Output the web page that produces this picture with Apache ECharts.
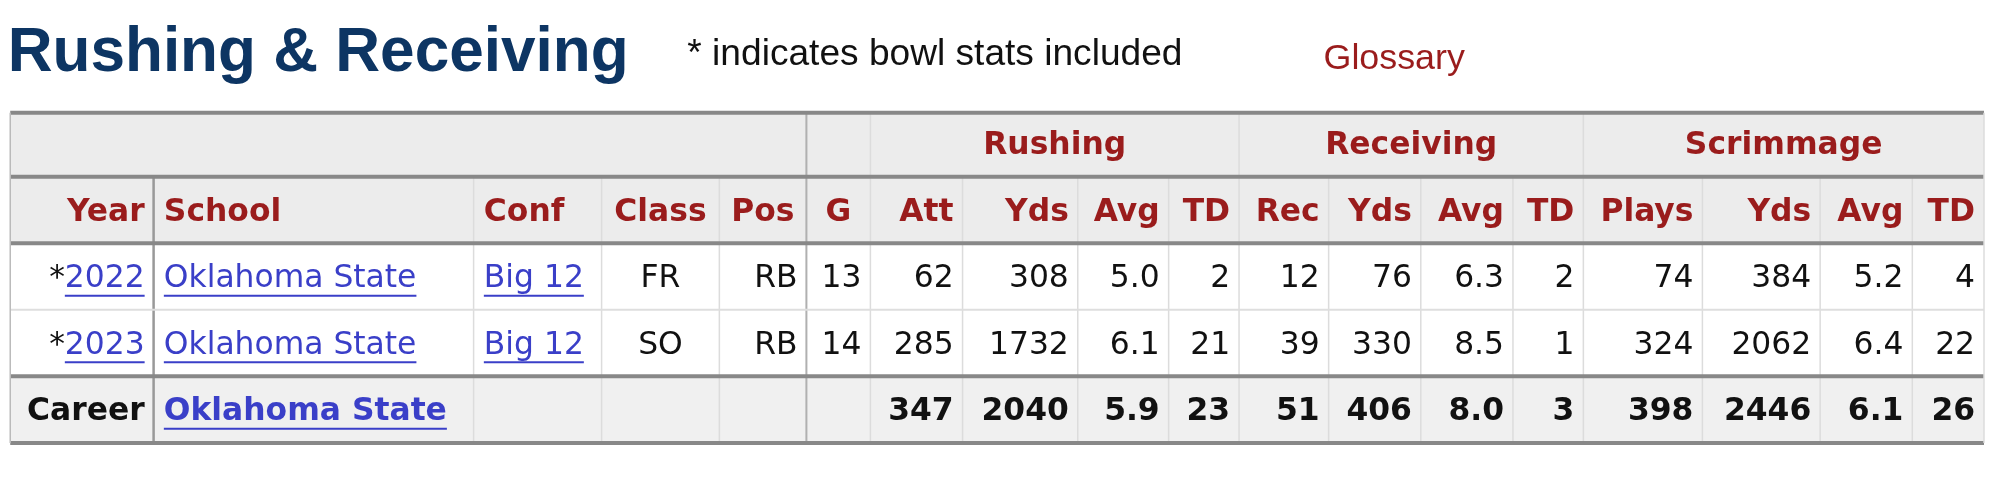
<!DOCTYPE html>
<html><head><meta charset="utf-8">
<script src="https://cdn.jsdelivr.net/npm/echarts@6/dist/echarts.min.js"></script>
<style>html,body{margin:0;background:#fff}#c{width:1996px;height:495px}</style>
</head><body><div id="c"></div>
<script>
const title = "Rushing & Receiving";
const note = "* indicates bowl stats included";
const glossary = "Glossary";
const groups = [["",0,6],["Rushing",6,10],["Receiving",10,14],["Scrimmage",14,18]];
const headers = ["Year","School","Conf","Class","Pos","G","Att","Yds","Avg","TD","Rec","Yds","Avg","TD","Plays","Yds","Avg","TD"];
const row2022 = ["*2022","Oklahoma State","Big 12","FR","RB","13","62","308","5.0","2","12","76","6.3","2","74","384","5.2","4"];
const row2023 = ["*2023","Oklahoma State","Big 12","SO","RB","14","285","1732","6.1","21","39","330","8.5","1","324","2062","6.4","22"];
const career = ["Career","Oklahoma State","","","","","347","2040","5.9","23","51","406","8.0","3","398","2446","6.1","26"];

const S = 1.28;
const colX = [8,120,370,470,562,630,680,752,842,913,968,1038,1110,1182,1237,1330,1422,1494,1550];
const FONT = "DejaVu Sans";
const fs = 24.5*S;
const cv = document.createElement('canvas').getContext('2d');
function tw(t, w){ cv.font = w+" "+fs+"px '"+FONT+"'"; return cv.measureText(t).width; }
const g = [];
const X = v=>v*S, Y = v=>v*S;
function rect(x,y,w,h,fill){ g.push({type:'rect',shape:{x:X(x),y:Y(y),width:X(w),height:Y(h)},style:{fill},silent:true}); }
function line(x1,y1,x2,y2,stroke,lw){ g.push({type:'line',shape:{x1:X(x1),y1:Y(y1),x2:X(x2),y2:Y(y2)},style:{stroke,lineWidth:lw},silent:true}); }
function text(t,x,y,align,color,weight,size,family){
  g.push({type:'text',x:X(x),y:Y(y),style:{text:t,fill:color,font:weight+" "+(size||fs)+"px '"+(family||FONT)+"'",textAlign:align,textVerticalAlign:'middle'},silent:true});
}
text(title,6,42,'left','#0d3563','bold',48.5*S,'Liberation Sans');
text(note,537,43,'left','#111','normal',29*S,'Liberation Sans');
text(glossary,1034,46,'left','#9a1c1c','normal',28*S,'Liberation Sans');
rect(8,88,1542,102,'#ececec');
rect(8,190,1542,104,'#ffffff');
rect(8,294,1542,52,'#f0f0f0');
for(let i=2;i<colX.length-1;i++){
  if(i===5) continue;
  const top = [6,10,14].includes(i) ? 88 : 138;
  line(colX[i], top, colX[i], 346, '#dcdcdc', 1.5);
}
line(colX[1],138,colX[1],346,'#999',2.5);
line(colX[5],88,colX[5],346,'#b0b0b0',2);
line(8,88,1550,88,'#888',4);
line(8,138,1550,138,'#888',4);
line(8,190,1550,190,'#888',4);
line(8,242,1550,242,'#dedede',2);
line(8,294,1550,294,'#888',4);
line(8,346,1550,346,'#888',4);
line(8,88,8,346,'#bbb',1.5); line(1550,88,1550,346,'#ddd',1.5);
groups.forEach(([n,a,b])=>{ if(n) text(n,(colX[a]+colX[b])/2,114,'center','#9a1c1c','bold'); });
const hAlign = ['right','left','left','center','center','center','right','right','right','right','right','right','right','right','right','right','right','right'];
const dAlign = ['right','left','left','center','right','right','right','right','right','right','right','right','right','right','right','right','right','right'];
function cellX(i,al){ return al==='left'? colX[i]+8 : al==='right'? colX[i+1]-7 : (colX[i]+colX[i+1])/2; }
headers.forEach((h,i)=>text(h,cellX(i,hAlign[i]),166,hAlign[i],'#9a1c1c','bold'));
const link='#3a3fc8';
function drawRow(r,cy,weight){
  r.forEach((v,i)=>{
    if(!v) return;
    const al = dAlign[i];
    const isLink = (i===1||i===2);
    if(i===0 && v.startsWith('*')){
      const yr=v.slice(1); const x=cellX(0,'right');
      text(yr,x,cy,'right',link,weight);
      const w=tw(yr,weight)/S;
      text('*',x-w,cy,'right','#111',weight);
      line(x-w,cy+13,x,cy+13,link,2);
      return;
    }
    const x=cellX(i,al);
    text(v,x,cy,al,isLink?link:'#111',weight);
    if(isLink){ const w=tw(v,weight)/S; line(x,cy+13,x+w,cy+13,link,2); }
  });
}
drawRow(row2022,218,'normal');
drawRow(row2023,270,'normal');
drawRow(career,322,'bold');
const chart = echarts.init(document.getElementById('c'));
chart.setOption({animation:false,graphic:{elements:g}});
</script></body></html>
